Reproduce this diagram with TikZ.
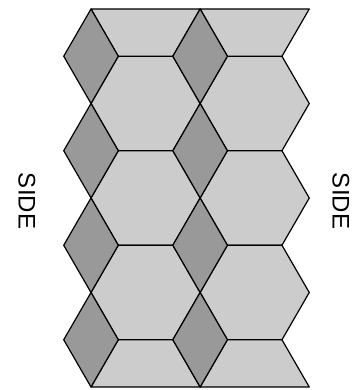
\documentclass[tikz,border=0pt]{standalone}
\usepackage{fontspec}
\setmainfont{Liberation Sans}
\begin{document}
\begin{tikzpicture}[x=1pt, y=-1pt, line width=1.2pt, line join=round,
  hexcell/.style={draw=black, fill=black!20},
  rhombcell/.style={draw=black, fill=black!40},
  sidelabel/.style={font=\fontsize{24}{28}\selectfont, rotate=-90, inner sep=0pt}]
  \def\hexs{54.56}
  \def\hexh{47.25}
  \useasboundingbox (0,0) rectangle (362,390);

  % ---- Sestiuhelniky (dva sloupce) ----
  \foreach \c in {0,1}
    \foreach \k in {2,4,6}
      \draw[hexcell] ({91+2*\c*\hexs},{9+\k*\hexh}) -- ++(\hexs/2,-\hexh) -- ++(\hexs,0)
        -- ++(\hexs/2,\hexh) -- ++(-\hexs/2,\hexh) -- ++(-\hexs,0) -- cycle;

  % ---- Polovicni bunky nahore a dole ----
  \foreach \c in {0,1} {
    \draw[hexcell] ({91+2*\c*\hexs},9) -- ++(2*\hexs,0) -- ++(-\hexs/2,\hexh)
      -- ++(-\hexs,0) -- cycle;
    \draw[hexcell] ({91+2*\c*\hexs},{9+8*\hexh}) -- ++(2*\hexs,0) -- ++(-\hexs/2,-\hexh)
      -- ++(-\hexs,0) -- cycle;
  }

  % ---- Kosoctverce ----
  \foreach \c in {0,1}
    \foreach \k in {1,3,5,7}
      \draw[rhombcell] ({91+2*\c*\hexs},{9+(\k-1)*\hexh}) -- ++(\hexs/2,\hexh)
        -- ++(-\hexs/2,\hexh) -- ++(-\hexs/2,-\hexh) -- cycle;

  % ---- Popisky ----
  \node[sidelabel] (sideL) at (27,201) {SIDE};
  \node[sidelabel] (sideR) at (341,201) {SIDE};
\end{tikzpicture}
\end{document}
